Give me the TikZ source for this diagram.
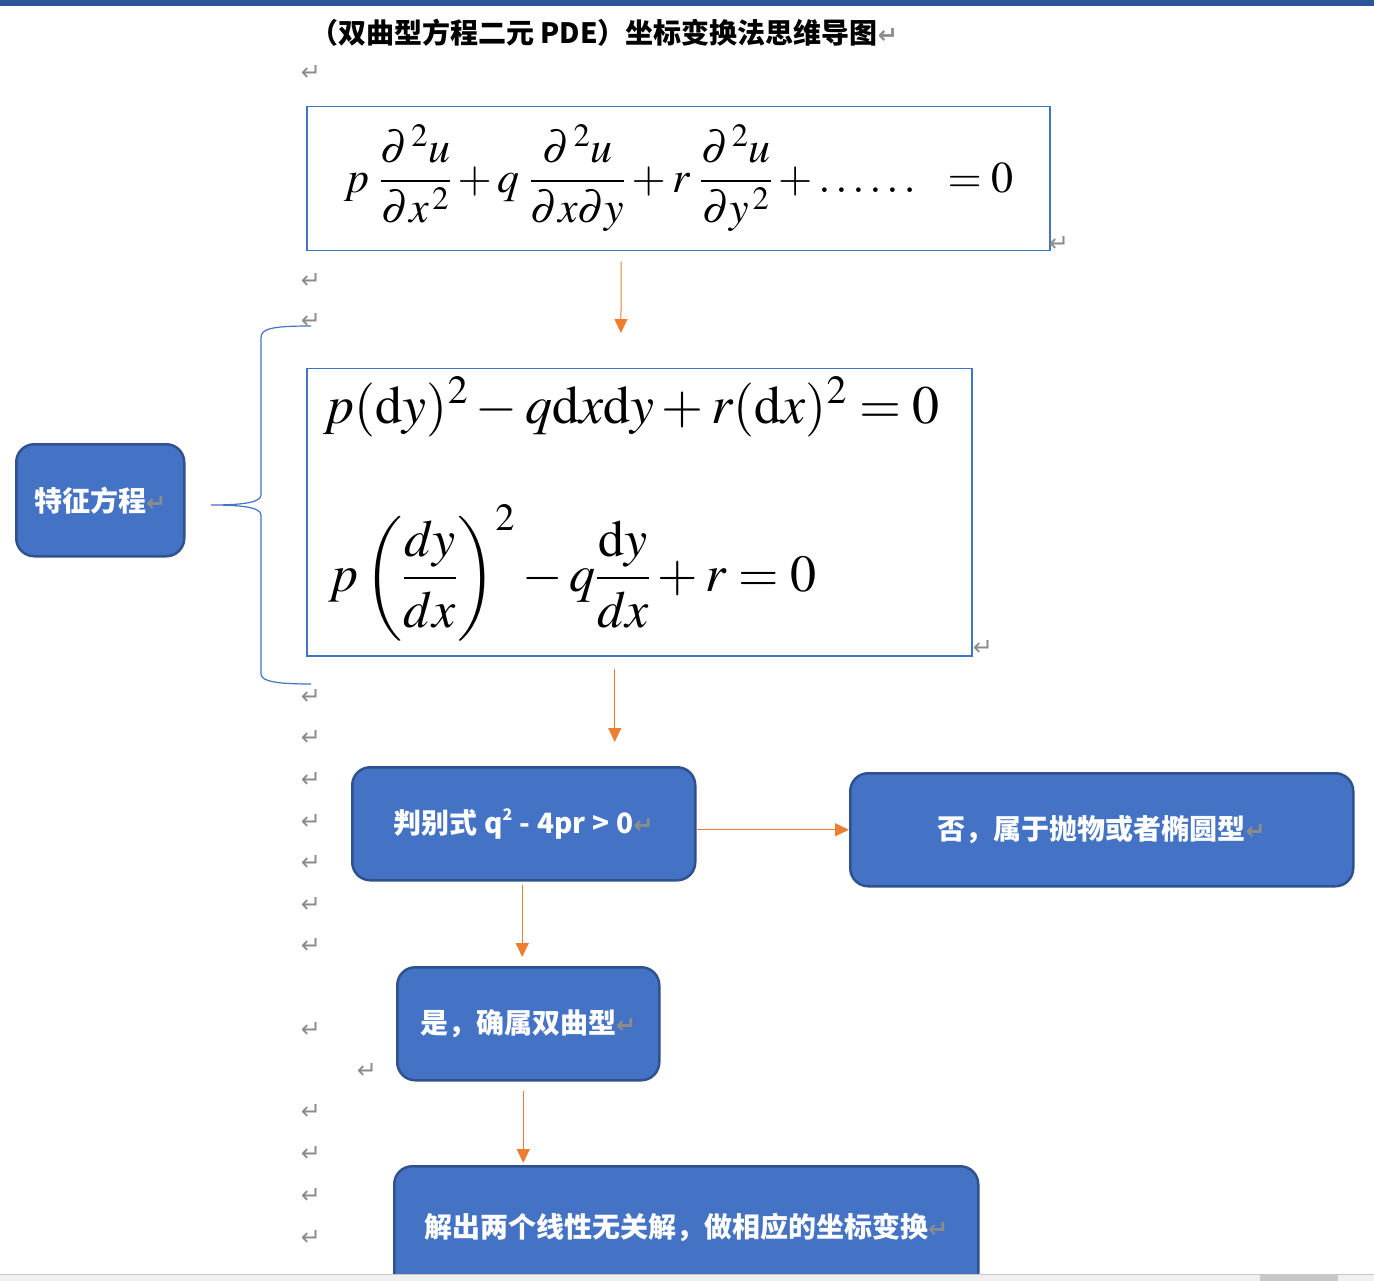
\documentclass[tikz,border=0pt]{standalone}
\usepackage{amsmath}
\usepackage{mathptmx}
\usepackage{fontspec}
\setmainfont{Liberation Serif}
\newfontfamily\cjk{Noto Sans CJK SC}
\newfontfamily\symf{DejaVu Sans}
\usetikzlibrary{arrows.meta}
\definecolor{boxblue}{HTML}{4472C4}
\definecolor{edgeblue}{HTML}{2F528F}
\definecolor{arrorange}{HTML}{ED7D31}
\definecolor{barblue}{HTML}{2B579A}
\definecolor{markgray}{HTML}{8C8C8C}
\newcommand{\retmark}{{\symf\color{markgray}\fontsize{24}{24}\selectfont ↵}}
\begin{document}
\begin{tikzpicture}[x=1pt, y=-1pt, line width=1pt,
  flow/.style={draw=edgeblue, line width=2.5pt, fill=boxblue, rounded corners=18pt,
    text=white, font=\cjk\bfseries\fontsize{28}{30}\selectfont, inner sep=0pt, anchor=north west},
  eqbox/.style={draw=boxblue, line width=1.5pt, fill=white, inner sep=0pt, anchor=north west},
  arr/.style={draw=arrorange, line width=1pt, -{Triangle[length=14pt,width=13pt,fill=arrorange]}},
  retnode/.style={inner sep=0pt}]
  \useasboundingbox (0,0) rectangle (1374,1281);
  \fill[barblue] (0,0) rectangle (1374,6);
  \node (title) at (604,33) {\cjk\bfseries\fontsize{28}{30}\selectfont （双曲型方程二元 PDE）坐标变换法思维导图\retmark};
  % equation boxes
  \node[eqbox, minimum width=743pt, minimum height=144pt] (pde) at (306,106) {};
  \node (pdeq) at (679,178) {\fontsize{44}{50}\selectfont
    $\displaystyle p\;\frac{\partial^{\,2} u}{\partial x^{\,2}} + q\;\frac{\partial^{\,2} u}{\partial x\partial y} + r\;\frac{\partial^{\,2} u}{\partial y^{\,2}} + \ldots\ldots\ \ = 0$};
  \node[eqbox, minimum width=665pt, minimum height=287pt] (char) at (306,368) {};
  \node[anchor=west] (chareq) at (320,407) {\fontsize{54}{58}\selectfont
    $p(\mathrm{d}y)^2 - q\mathrm{d}x\mathrm{d}y + r(\mathrm{d}x)^2 = 0$};
  \node[anchor=west] (slope) at (325,573) {\fontsize{52}{56}\selectfont
    $\displaystyle p\left(\frac{dy}{dx}\right)^{2} - q\frac{\mathrm{d}y}{dx} + r = 0$};
  % brace and label
  \draw[boxblue, line width=1.2pt] (311,326) .. controls (270,326) and (261,329) .. (261,338)
    -- (261,495) .. controls (261,503) and (240,505) .. (211,505)
    .. controls (240,505) and (261,507) .. (261,515) -- (261,674)
    .. controls (261,682) and (280,684) .. (311,684);
  \node[flow, minimum width=168pt, minimum height=112pt] (feat) at (15,443) {特征方程\retmark};
  % flow boxes
  \node[flow, minimum width=343pt, minimum height=113pt] (judge) at (351,766) {判别式 q\raisebox{13pt}{\fontsize{16}{16}\selectfont 2}\hspace{7pt}-\hspace{7pt}4pr\hspace{7pt}>\hspace{7pt}0\retmark};
  \node[flow, minimum width=503pt, minimum height=113pt] (no) at (849,772) {否，属于抛物或者椭圆型\retmark};
  \node[flow, minimum width=262pt, minimum height=113pt] (yes) at (396,966) {是，确属双曲型\retmark};
  \node[flow, minimum width=584pt, minimum height=125pt] (solve) at (393,1165) {\raisebox{7pt}{解出两个线性无关解，做相应的坐标变换\retmark}};
  % connectors
  \draw[arr, shorten <=10pt, shorten >=35pt] ([xshift=-57pt]pde.south) -- ([xshift=-18.5pt]char.north);
  \draw[arr, shorten <=12pt, shorten >=24pt] ([xshift=-24.5pt]char.south) -- ([xshift=-24.5pt]char.south |- judge.north);
  \draw[arr] (judge.east |- no.west) -- (no.west);
  \draw[arr, shorten <=3pt, shorten >=9pt] ([xshift=-1.5pt]judge.south) -- ([xshift=-1.5pt]judge.south |- yes.north);
  \draw[arr, shorten <=9pt, shorten >=2pt] ([xshift=-5pt]yes.south) -- ([xshift=-5pt]yes.south |- solve.north);
  % paragraph marks
  \node[retnode] (r1) at (1059,244) {\retmark};
  \node[retnode] (r2) at (983,648) {\retmark};
  \node[retnode] (r3) at (367,1071) {\retmark};
  \foreach \y [count=\i] in {73,281,321,697,738,780,822,863,905,946,1030,1112,1154,1196,1238}
    \node[retnode] (m\i) at (311,\y) {\retmark};
  % window edge
  \fill[black!6] (0,1275) rectangle (1374,1281);
  \draw[black!22, line width=1.5pt] (0,1274.5) -- (1374,1274.5);
  \fill[black!22] (1260,1275) rectangle (1338,1281);
\end{tikzpicture}
\end{document}
